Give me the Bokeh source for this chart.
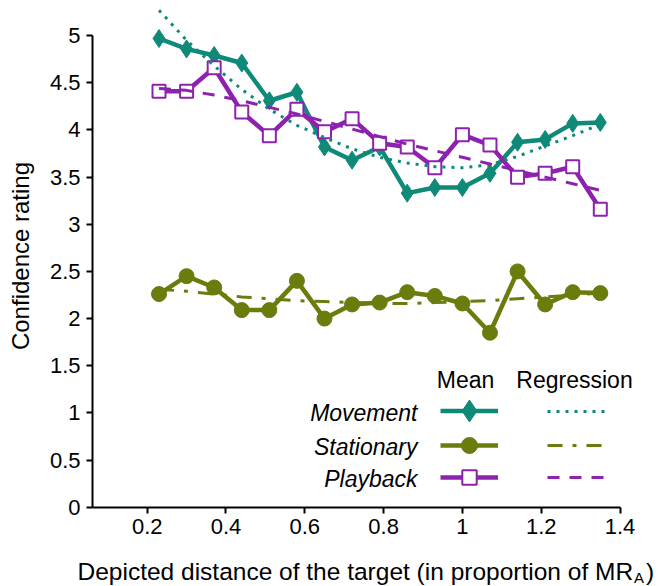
import math
from bokeh.plotting import figure
from bokeh.models import Range1d, FixedTicker, Legend, LegendItem, Label
from bokeh.embed import file_html
from bokeh.resources import INLINE

# ---------------- data ----------------
distance = [0.23, 0.30, 0.37, 0.44, 0.51, 0.58, 0.65, 0.72, 0.79,
            0.86, 0.93, 1.00, 1.07, 1.14, 1.21, 1.28, 1.35]
movement = [4.97, 4.86, 4.79, 4.71, 4.31, 4.40, 3.82, 3.68, 3.82,
            3.33, 3.39, 3.39, 3.54, 3.87, 3.90, 4.07, 4.08]
stationary = [2.26, 2.45, 2.33, 2.09, 2.09, 2.40, 2.00, 2.15, 2.17,
              2.28, 2.24, 2.16, 1.85, 2.50, 2.15, 2.28, 2.27]
playback = [4.41, 4.41, 4.66, 4.19, 3.94, 4.22, 3.98, 4.12, 3.86,
            3.82, 3.60, 3.95, 3.84, 3.50, 3.54, 3.61, 3.16]

movement_regression = [5.27, 4.95, 4.68, 4.43, 4.22, 4.05, 3.92, 3.80, 3.71,
                       3.65, 3.61, 3.60, 3.63, 3.72, 3.83, 3.94, 4.06]
stationary_regression = [2.31, 2.29, 2.26, 2.23, 2.21, 2.19, 2.18, 2.17, 2.16,
                         2.16, 2.17, 2.18, 2.19, 2.21, 2.23, 2.25, 2.27]
playback_regression = [4.44, 4.42, 4.37, 4.31, 4.24, 4.17, 4.09, 4.01, 3.93,
                       3.85, 3.78, 3.71, 3.64, 3.57, 3.50, 3.43, 3.36]

series_names = ["Movement", "Stationary", "Playback"]
legend_headers = ["Mean", "Regression"]

x_ticks = [0.2, 0.4, 0.6, 0.8, 1.0, 1.2, 1.4]
x_tick_labels = ["0.2", "0.4", "0.6", "0.8", "1", "1.2", "1.4"]
y_ticks = [0, 0.5, 1, 1.5, 2, 2.5, 3, 3.5, 4, 4.5, 5]
y_tick_labels = ["0", "0.5", "1", "1.5", "2", "2.5", "3", "3.5", "4", "4.5", "5"]

x_title_main = "Depicted distance of the target (in proportion of MR"
x_title_sub = "A"
x_title_end = ")"
y_title = "Confidence rating"

# ---------------- styling ----------------
FONT = "Liberation Sans"
TEAL = "#0f8a79"
OLIVE = "#697c0c"
PURPLE = "#8c22ae"
X_AXIS_START = 0.0612

# the frame fills the whole canvas; axes are drawn at fixed data locations
p = figure(width=666, height=586,
           x_range=Range1d(-0.1723, 1.518), y_range=Range1d(-0.841, 5.373),
           output_backend="svg", toolbar_location=None,
           min_border_left=0, min_border_bottom=0,
           min_border_top=0, min_border_right=0)
p.outline_line_color = None
p.xgrid.visible = False
p.ygrid.visible = False
p.background_fill_color = "white"
p.border_fill_color = "white"

for ax in (p.xaxis[0], p.yaxis[0]):
    ax.axis_line_width = 2
    ax.axis_line_color = "black"
    ax.major_tick_line_width = 2
    ax.major_tick_line_color = "black"
    ax.major_tick_in = 0
    ax.major_tick_out = 6
    ax.minor_tick_line_color = None
    ax.major_label_text_font = FONT
    ax.major_label_text_font_size = "22px"
    ax.major_label_text_color = "black"
    ax.major_label_standoff = 6

p.xaxis.ticker = FixedTicker(ticks=x_ticks, minor_ticks=[])
p.yaxis.ticker = FixedTicker(ticks=y_ticks, minor_ticks=[])
p.xaxis.major_label_overrides = {t: l for t, l in zip(x_ticks, x_tick_labels)}
p.yaxis.major_label_overrides = {t: l for t, l in zip(y_ticks, y_tick_labels)}
p.xaxis.bounds = (X_AXIS_START, 1.4)
p.yaxis.bounds = (0, 5)
p.xaxis.fixed_location = 0
p.yaxis.fixed_location = X_AXIS_START

# ---------------- mean series ----------------
mv_line = p.line(distance, movement, line_color=TEAL, line_width=4.5, line_join="round")
mv_mark = p.scatter(distance, movement, marker="diamond", size=18,
                    fill_color=TEAL, line_color=TEAL)
st_line = p.line(distance, stationary, line_color=OLIVE, line_width=4.5, line_join="round")
st_mark = p.scatter(distance, stationary, marker="circle", size=15,
                    fill_color=OLIVE, line_color=OLIVE)
pb_line = p.line(distance, playback, line_color=PURPLE, line_width=4.5, line_join="round")
pb_mark = p.scatter(distance, playback, marker="square", size=13,
                    fill_color="white", line_color=PURPLE, line_width=2)

# ---------------- regression curves ----------------
mv_reg = p.line(distance, movement_regression, line_color=TEAL, line_width=3,
                line_dash="3 6")
st_reg = p.line(distance, stationary_regression, line_color=OLIVE, line_width=3,
                line_dash="15 10 4 10")
pb_reg = p.line(distance, playback_regression, line_color=PURPLE, line_width=3,
                line_dash="12 10")

# ---------------- legend ----------------
def make_legend(renderers, gw, gh, loc):
    lg = Legend(items=[LegendItem(label=" ", renderers=renderers)],
                location=loc, orientation="vertical",
                glyph_width=gw, glyph_height=gh,
                label_text_font_size="1px", label_standoff=0,
                label_width=0, label_height=1,
                padding=0, margin=0, spacing=0,
                border_line_color=None, background_fill_alpha=0)
    p.add_layout(lg)

row_centers = [175.3, 141.0, 108.7]
mean_sets = [([mv_line, mv_mark], 55), ([st_line, st_mark], 40), ([pb_line, pb_mark], 36)]
for (rends, gh), c in zip(mean_sets, row_centers):
    make_legend(rends, 58, gh, (440, c - gh / 2))
for rend, c in zip([mv_reg, st_reg, pb_reg], row_centers):
    make_legend([rend], 60, 20, (547, c - 10))

for name, c in zip(series_names, row_centers):
    p.add_layout(Label(x=417, y=c - 1.5, x_units="screen", y_units="screen",
                       text=name, text_font=FONT, text_font_size="23px",
                       text_font_style="italic", text_align="right",
                       text_baseline="middle", text_color="black"))
for hdr, hx in zip(legend_headers, [465, 574]):
    p.add_layout(Label(x=hx, y=206.3, x_units="screen", y_units="screen",
                       text=hdr, text_font=FONT, text_font_size="23px",
                       text_align="center", text_baseline="middle",
                       text_color="black"))

# ---------------- axis titles ----------------
p.add_layout(Label(x=20, y=330.5, x_units="screen", y_units="screen",
                   text=y_title, text_font=FONT, text_font_size="24px",
                   angle=math.pi / 2, text_align="center", text_baseline="middle",
                   text_color="black"))
p.add_layout(Label(x=77, y=15, x_units="screen", y_units="screen",
                   text=x_title_main, text_font=FONT, text_font_size="24.5px",
                   text_align="left", text_baseline="middle", text_color="black"))
p.add_layout(Label(x=633.5, y=9.2, x_units="screen", y_units="screen",
                   text=x_title_sub, text_font=FONT, text_font_size="15px",
                   text_align="left", text_baseline="middle", text_color="black"))
p.add_layout(Label(x=645.5, y=15, x_units="screen", y_units="screen",
                   text=x_title_end, text_font=FONT, text_font_size="24.5px",
                   text_align="left", text_baseline="middle", text_color="black"))

open("out.html", "w").write(file_html(p, INLINE))
